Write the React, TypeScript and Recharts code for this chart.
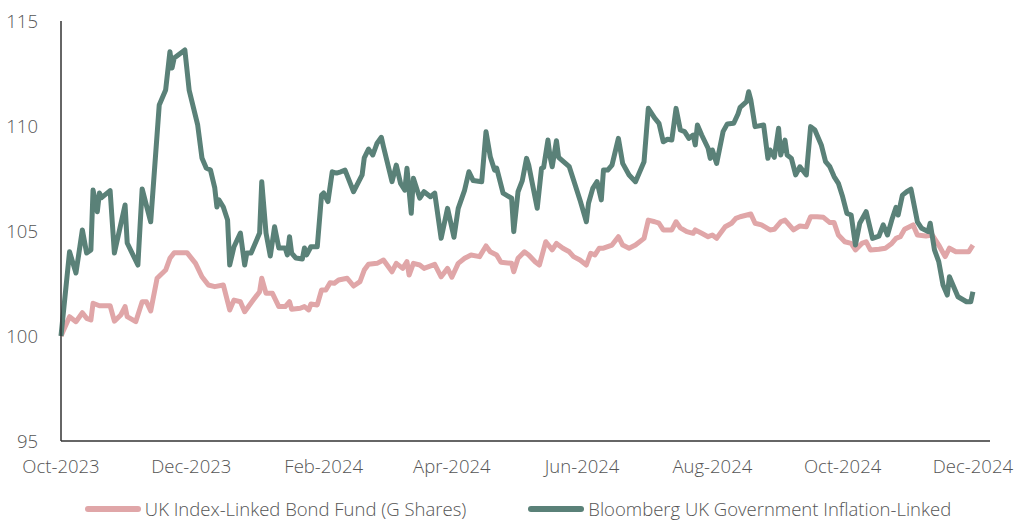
import { LineChart, Line, XAxis, YAxis, Legend } from 'recharts'

const FUND_COLOR = '#E0A6A8'
const INDEX_COLOR = '#5A8178'
const TEXT_COLOR = '#555555'
const FONT = "'Open Sans', sans-serif"
const FONT_SIZE = 18.5

// x = days since 1 Oct 2023, y = rebased value (100 at start)
const fundPoints: [number, number][] = [
  [0, 100.0], [4, 100.92], [7, 100.68], [10, 101.11], [12, 100.84], [14, 100.76], [15, 101.56],
  [18, 101.44], [23, 101.44], [25, 100.71], [28, 101.0], [30, 101.4], [31, 100.92], [35, 100.68],
  [38, 101.63], [40, 101.63], [42, 101.19], [45, 102.75], [49, 103.14], [51, 103.7], [53, 103.97],
  [59, 103.97], [63, 103.46], [66, 102.82], [69, 102.43], [72, 102.35], [76, 102.43], [79, 101.24],
  [81, 101.71], [84, 101.63], [86, 101.16], [90, 101.71], [93, 102.11], [94, 102.75], [96, 102.03],
  [99, 102.03], [102, 101.4], [105, 101.4], [107, 101.63], [108, 101.27], [112, 101.32], [114, 101.4],
  [116, 101.24], [117, 101.52], [120, 101.48], [122, 102.19], [124, 102.19], [126, 102.54],
  [128, 102.51], [130, 102.67], [134, 102.75], [137, 102.38], [140, 102.59], [142, 103.14],
  [144, 103.42], [148, 103.46], [151, 103.62], [155, 103.06], [157, 103.46], [160, 103.22],
  [162, 103.54], [163, 102.9], [165, 103.46], [168, 103.38], [170, 103.22], [175, 103.41],
  [178, 102.82], [181, 103.22], [183, 102.8], [186, 103.46], [189, 103.7], [192, 103.86],
  [196, 103.78], [199, 104.29], [201, 104.01], [204, 103.86], [206, 103.51], [211, 103.46],
  [212, 103.06], [214, 103.7], [217, 104.01], [219, 103.86], [222, 103.54], [224, 103.38],
  [227, 104.49], [230, 104.1], [232, 104.41], [235, 104.18], [238, 104.01], [240, 103.78],
  [243, 103.62], [246, 103.38], [248, 103.94], [250, 103.86], [252, 104.18], [254, 104.18],
  [258, 104.33], [261, 104.73], [263, 104.33], [266, 104.18], [269, 104.33], [273, 104.65],
  [275, 105.52], [278, 105.44], [280, 105.37], [282, 105.05], [284, 105.05], [286, 105.05],
  [288, 105.44], [290, 105.15], [293, 104.97], [296, 104.89], [297, 105.05], [300, 104.89],
  [303, 104.73], [305, 104.81], [307, 104.65], [311, 105.2], [314, 105.37], [316, 105.6],
  [318, 105.68], [323, 105.81], [325, 105.37], [328, 105.29], [332, 105.05], [334, 105.08],
  [337, 105.44], [339, 105.52], [343, 105.05], [346, 105.24], [349, 105.2], [351, 105.68],
  [354, 105.68], [357, 105.65], [360, 105.4], [362, 105.4], [364, 104.81], [367, 104.49],
  [370, 104.41], [372, 104.1], [375, 104.41], [377, 104.49], [379, 104.1], [383, 104.13],
  [386, 104.18], [389, 104.41], [391, 104.65], [393, 104.73], [395, 105.08], [399, 105.29],
  [401, 104.81], [405, 104.76], [408, 104.81], [411, 104.33], [414, 103.78], [416, 104.18],
  [419, 104.01], [425, 104.01], [427, 104.33],
]

const indexPoints: [number, number][] = [
  [0, 100.0], [4, 104.01], [7, 103.0], [10, 105.05], [12, 103.95], [14, 104.1], [15, 106.95],
  [17, 105.92], [18, 106.81], [19, 106.59], [23, 106.92], [25, 103.95], [30, 106.24], [31, 104.43],
  [36, 103.38], [38, 107.0], [42, 105.44], [46, 111.0], [49, 111.71], [51, 113.54], [52, 112.76],
  [53, 113.24], [58, 113.62], [60, 111.71], [64, 110.05], [66, 108.48], [68, 108.0], [70, 107.9],
  [72, 107.05], [73, 106.14], [74, 106.48], [76, 106.14], [78, 105.52], [79, 103.38], [81, 104.25],
  [84, 104.9], [86, 103.38], [87, 103.95], [89, 103.95], [93, 104.9], [94, 107.35], [96, 104.9],
  [98, 103.81], [100, 105.2], [102, 104.19], [105, 104.19], [106, 103.86], [107, 104.73],
  [108, 103.95], [110, 103.71], [113, 103.67], [114, 104.19], [115, 103.86], [117, 104.25],
  [120, 104.25], [122, 106.71], [123, 106.81], [125, 106.4], [127, 107.82], [129, 107.76],
  [131, 107.82], [133, 107.9], [137, 106.87], [141, 107.67], [142, 108.48], [144, 108.9],
  [146, 108.62], [148, 109.18], [150, 109.46], [151, 109.01], [155, 107.35], [157, 108.14],
  [159, 107.27], [161, 106.95], [162, 107.99], [164, 105.84], [165, 107.51], [168, 106.56],
  [170, 106.87], [173, 106.63], [175, 106.8], [178, 104.65], [181, 106.08], [184, 104.7],
  [186, 106.08], [189, 106.95], [191, 107.82], [193, 107.4], [197, 107.35], [199, 109.73],
  [201, 108.54], [203, 107.9], [204, 107.99], [207, 106.8], [211, 106.56], [212, 104.97],
  [214, 106.87], [216, 107.4], [218, 108.46], [219, 108.14], [221, 107.11], [223, 106.08],
  [225, 107.99], [226, 108.03], [228, 109.33], [229, 108.54], [230, 108.06], [232, 109.3],
  [233, 108.51], [238, 108.06], [240, 107.43], [243, 106.48], [246, 105.44], [247, 106.32],
  [249, 107.03], [251, 107.35], [253, 106.48], [254, 107.9], [256, 107.9], [258, 108.14],
  [261, 109.41], [263, 108.22], [266, 107.67], [269, 107.35], [273, 108.3], [275, 110.84],
  [278, 110.37], [280, 110.13], [282, 109.25], [284, 109.37], [286, 109.33], [288, 110.84],
  [290, 109.81], [292, 109.73], [294, 109.41], [296, 109.57], [297, 109.1], [298, 110.05],
  [300, 109.57], [303, 108.94], [304, 108.46], [305, 108.86], [307, 108.22], [310, 109.73],
  [312, 110.1], [315, 110.13], [317, 110.57], [318, 110.89], [321, 111.16], [322, 111.63],
  [323, 111.24], [325, 109.97], [329, 110.05], [331, 108.46], [332, 108.86], [334, 108.51],
  [336, 109.89], [337, 108.62], [339, 109.33], [340, 108.62], [342, 108.46], [344, 107.67],
  [346, 108.06], [349, 107.67], [351, 109.97], [353, 109.81], [356, 109.1], [358, 108.3],
  [360, 108.06], [362, 107.59], [364, 107.27], [366, 106.63], [368, 105.84], [370, 105.76],
  [372, 104.33], [374, 105.37], [377, 105.92], [380, 104.65], [383, 104.76], [385, 105.29],
  [387, 104.81], [389, 105.52], [391, 106.13], [392, 105.76], [394, 106.71], [396, 106.87],
  [398, 106.99], [401, 105.44], [403, 105.13], [406, 104.97], [407, 105.37], [409, 104.1],
  [411, 103.54], [413, 102.43], [415, 101.95], [416, 102.82], [420, 101.87], [424, 101.63],
  [426, 101.63], [427, 102.11],
]

const tickDays = [0, 61, 123, 183, 244, 305, 366, 427]
const tickLabels = ['Oct-2023', 'Dec-2023', 'Feb-2024', 'Apr-2024', 'Jun-2024', 'Aug-2024', 'Oct-2024', 'Dec-2024']
const yTicks = [95, 100, 105, 110, 115]

const fundName = 'UK Index-Linked Bond Fund (G Shares)'
const indexName = 'Bloomberg UK Government Inflation-Linked'

const fundData = fundPoints.map(([day, value]) => ({ day, value }))
const indexData = indexPoints.map(([day, value]) => ({ day, value }))

const legendItems = [
  { name: fundName, color: FUND_COLOR },
  { name: indexName, color: INDEX_COLOR },
]

function LegendContent() {
  return (
    <div
      style={{
        display: 'flex',
        justifyContent: 'center',
        alignItems: 'center',
        gap: 62,
        paddingTop: 15,
        paddingLeft: 22,
        fontFamily: FONT,
        fontWeight: 300,
        fontSize: FONT_SIZE,
        color: TEXT_COLOR,
      }}
    >
      {legendItems.map((item) => (
        <div key={item.name} style={{ display: 'flex', alignItems: 'center' }}>
          <span
            style={{
              display: 'inline-block',
              width: 56,
              height: 6,
              borderRadius: 3,
              background: item.color,
              marginRight: 4,
            }}
          />
          <span>{item.name}</span>
        </div>
      ))}
    </div>
  )
}

export default function App() {
  const tickStyle = { fill: TEXT_COLOR, fontSize: FONT_SIZE, fontFamily: FONT, fontWeight: 300 }
  return (
    <div style={{ position: 'absolute', left: 0, top: 0, width: 1014, height: 523, background: '#fff' }}>
      <LineChart width={1014} height={523} margin={{ top: 21, right: 24, bottom: 0, left: 0 }}>
        <XAxis
          type="number"
          dataKey="day"
          domain={[0, 435]}
          ticks={tickDays}
          interval={0}
          tickFormatter={(d: number) => tickLabels[tickDays.indexOf(d)]}
          tick={tickStyle}
          tickLine={false}
          tickSize={0}
          tickMargin={19}
          height={40}
          axisLine={{ stroke: '#333', strokeWidth: 1.5 }}
        />
        <YAxis
          type="number"
          domain={[95, 115]}
          ticks={yTicks}
          interval={0}
          tick={tickStyle}
          tickLine={false}
          tickSize={0}
          tickMargin={23}
          width={61}
          axisLine={{ stroke: '#333', strokeWidth: 1.5 }}
        />
        <Legend verticalAlign="bottom" height={42} wrapperStyle={{ left: 0, width: 1014 }} content={<LegendContent />} />
        <Line
          data={fundData}
          dataKey="value"
          name={fundName}
          type="linear"
          stroke={FUND_COLOR}
          strokeWidth={5}
          strokeLinejoin="round"
          dot={false}
          isAnimationActive={false}
        />
        <Line
          data={indexData}
          dataKey="value"
          name={indexName}
          type="linear"
          stroke={INDEX_COLOR}
          strokeWidth={5}
          strokeLinejoin="round"
          dot={false}
          isAnimationActive={false}
        />
      </LineChart>
    </div>
  )
}
